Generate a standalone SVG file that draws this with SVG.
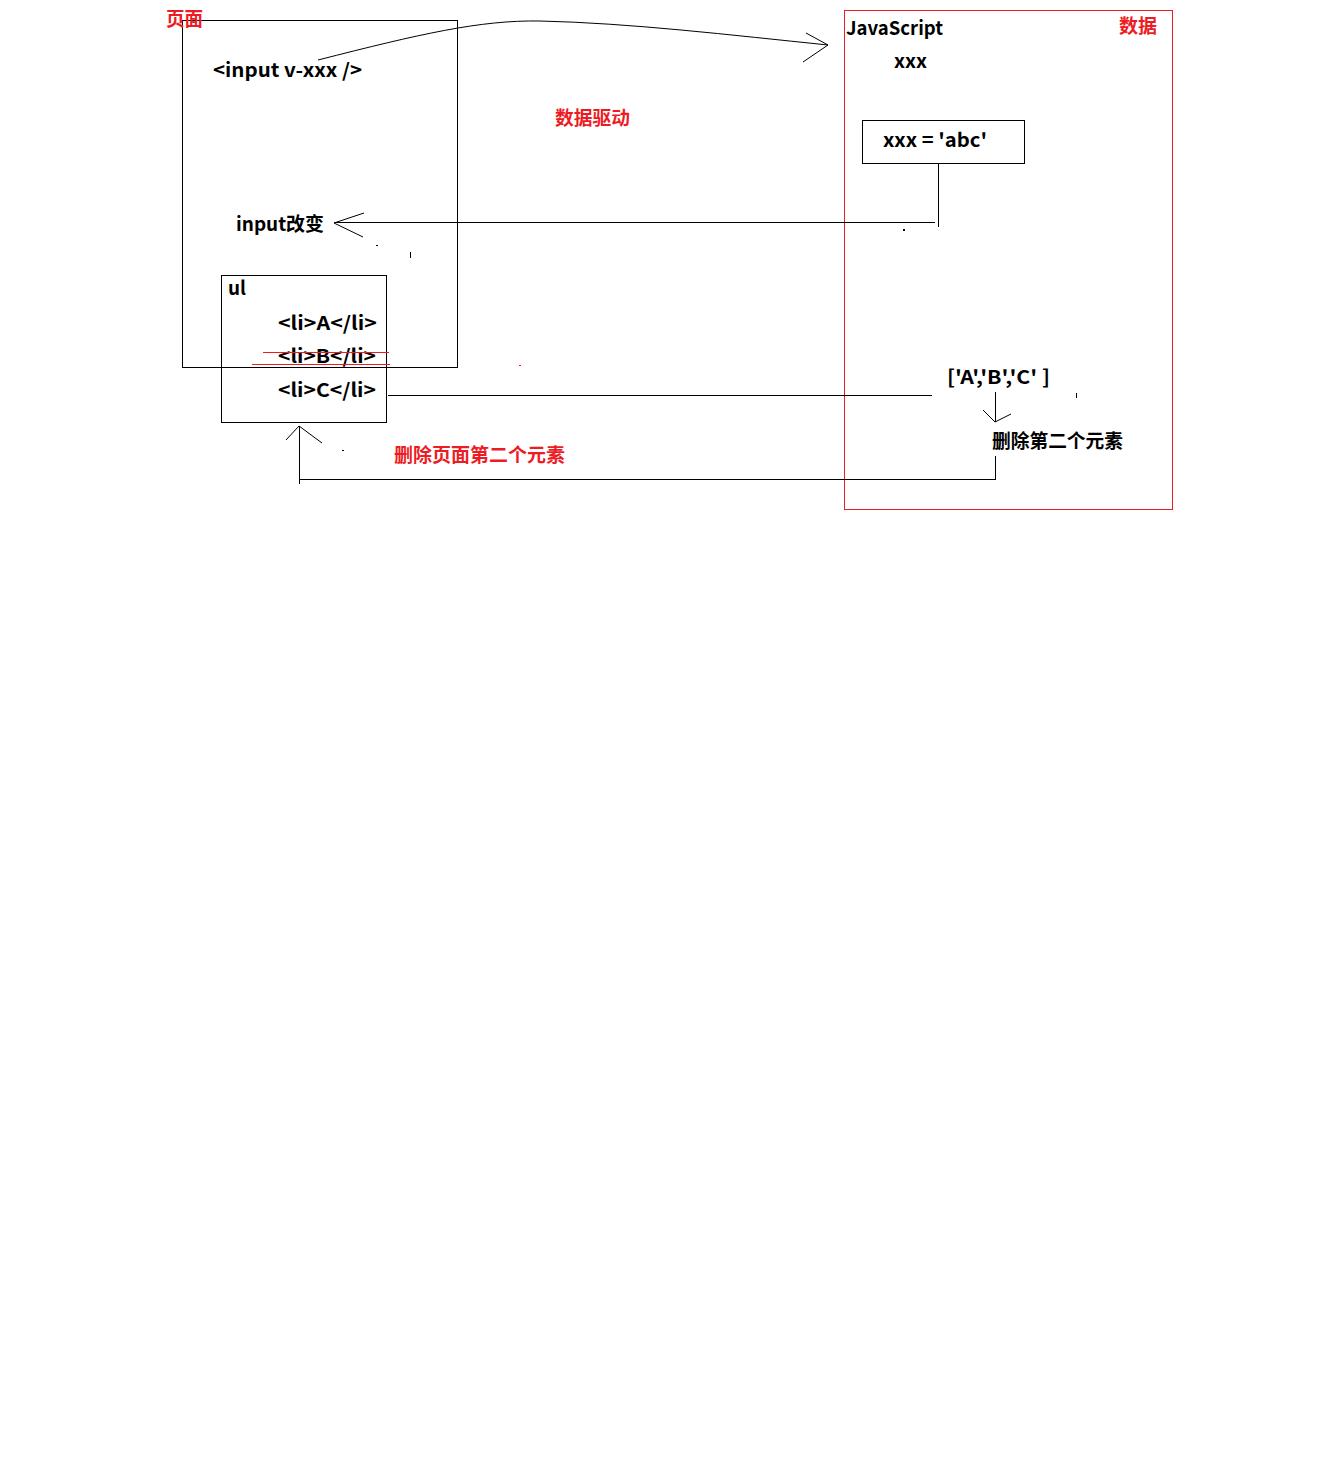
<svg xmlns="http://www.w3.org/2000/svg" width="1332" height="1468" viewBox="0 0 1332 1468">
<style>
  text { font-family: "Noto Sans CJK SC", "Noto Sans", sans-serif; font-weight: bold; font-size: 19px; }
  .k { fill: #000; }
  .r { fill: #ed1c24; }
  .box { fill: none; stroke: #000; stroke-width: 1; }
  .rbox { fill: none; stroke: #ed1c24; stroke-width: 1; }
  .ln { fill: none; stroke: #000; stroke-width: 1; }
  .rln { fill: none; stroke: #ed1c24; stroke-width: 1; }
</style>
<rect width="1332" height="1468" fill="#fff"/>

<g id="page">
  <rect class="box" x="182.5" y="20.5" width="275" height="347"/>
  <text class="r" x="166" y="26" font-size="18" textLength="37" lengthAdjust="spacingAndGlyphs">页面</text>
</g>
<g id="input-node">
  <text class="k" x="213" y="77" textLength="149" lengthAdjust="spacingAndGlyphs">&lt;input v-xxx /&gt;</text>
</g>
<g id="input-change">
  <text class="k" x="236" y="231" textLength="88" lengthAdjust="spacingAndGlyphs">input改变</text>
</g>
<g id="ul-node">
  <rect class="box" x="221.5" y="275.5" width="165" height="147"/>
  <text class="k" x="228" y="295" textLength="18" lengthAdjust="spacingAndGlyphs">ul</text>
  <text class="k" x="278" y="330" textLength="99" lengthAdjust="spacingAndGlyphs">&lt;li&gt;A&lt;/li&gt;</text>
  <text class="k" x="278" y="363" textLength="98" lengthAdjust="spacingAndGlyphs">&lt;li&gt;B&lt;/li&gt;</text>
  <text class="k" x="278" y="397" textLength="98" lengthAdjust="spacingAndGlyphs">&lt;li&gt;C&lt;/li&gt;</text>
  <line class="rln" x1="263" y1="352.5" x2="389" y2="352.5"/>
  <line class="rln" x1="252" y1="364.5" x2="390" y2="364.5"/>
</g>
<g id="data-drive">
  <text class="r" x="555" y="125" textLength="75" lengthAdjust="spacingAndGlyphs">数据驱动</text>
</g>
<g id="delete-page">
  <text class="r" x="394" y="462" textLength="171" lengthAdjust="spacingAndGlyphs">删除页面第二个元素</text>
</g>
<g id="data">
  <rect class="rbox" x="844.5" y="10.5" width="328" height="499"/>
  <text class="k" x="846" y="35" textLength="97" lengthAdjust="spacingAndGlyphs">JavaScript</text>
  <text class="r" x="1119" y="33" textLength="38" lengthAdjust="spacingAndGlyphs">数据</text>
  <text class="k" x="894" y="68" textLength="33" lengthAdjust="spacingAndGlyphs">xxx</text>
</g>
<g id="assign">
  <rect class="box" x="862.5" y="120.5" width="162" height="43"/>
  <text class="k" x="883" y="147" textLength="104" lengthAdjust="spacingAndGlyphs">xxx = 'abc'</text>
</g>
<g id="array">
  <text class="k" x="947" y="384" textLength="103" lengthAdjust="spacingAndGlyphs">['A','B','C' ]</text>
</g>
<g id="delete-data">
  <text class="k" x="992" y="448" textLength="131" lengthAdjust="spacingAndGlyphs">删除第二个元素</text>
</g>

<g id="connectors">
  <path class="ln" d="M318,60 C420,34 480,20 540,21 C630,23 730,35 828,45"/>
  <path class="ln" d="M806,33 L828,45 L803,62"/>
  <line class="ln" x1="938.5" y1="163" x2="938.5" y2="227"/>
  <line class="ln" x1="334" y1="222.5" x2="935" y2="222.5"/>
  <path class="ln" d="M364,213 L334,223 L363,237"/>
  <line class="ln" x1="388" y1="395.5" x2="932" y2="395.5"/>
  <line class="ln" x1="995.5" y1="392" x2="995.5" y2="422"/>
  <path class="ln" d="M983,410 L995,422 L1011,414"/>
  <line class="ln" x1="995.5" y1="456" x2="995.5" y2="480"/>
  <line class="ln" x1="299" y1="479.5" x2="995" y2="479.5"/>
  <line class="ln" x1="299.5" y1="426" x2="299.5" y2="484"/>
  <path class="ln" d="M286,440 L299,426 L322,443"/>
  <line class="ln" x1="410.5" y1="252" x2="410.5" y2="258"/>
  <line class="ln" x1="1076.5" y1="393" x2="1076.5" y2="398"/>
  <rect x="903" y="229" width="2" height="2" fill="#000"/>
  <rect x="376" y="245" width="2" height="1" fill="#000"/>
  <rect x="342" y="450" width="2" height="1" fill="#000"/>
  <rect x="519" y="365" width="2" height="1" fill="#ed1c24"/>
</g>
</svg>
